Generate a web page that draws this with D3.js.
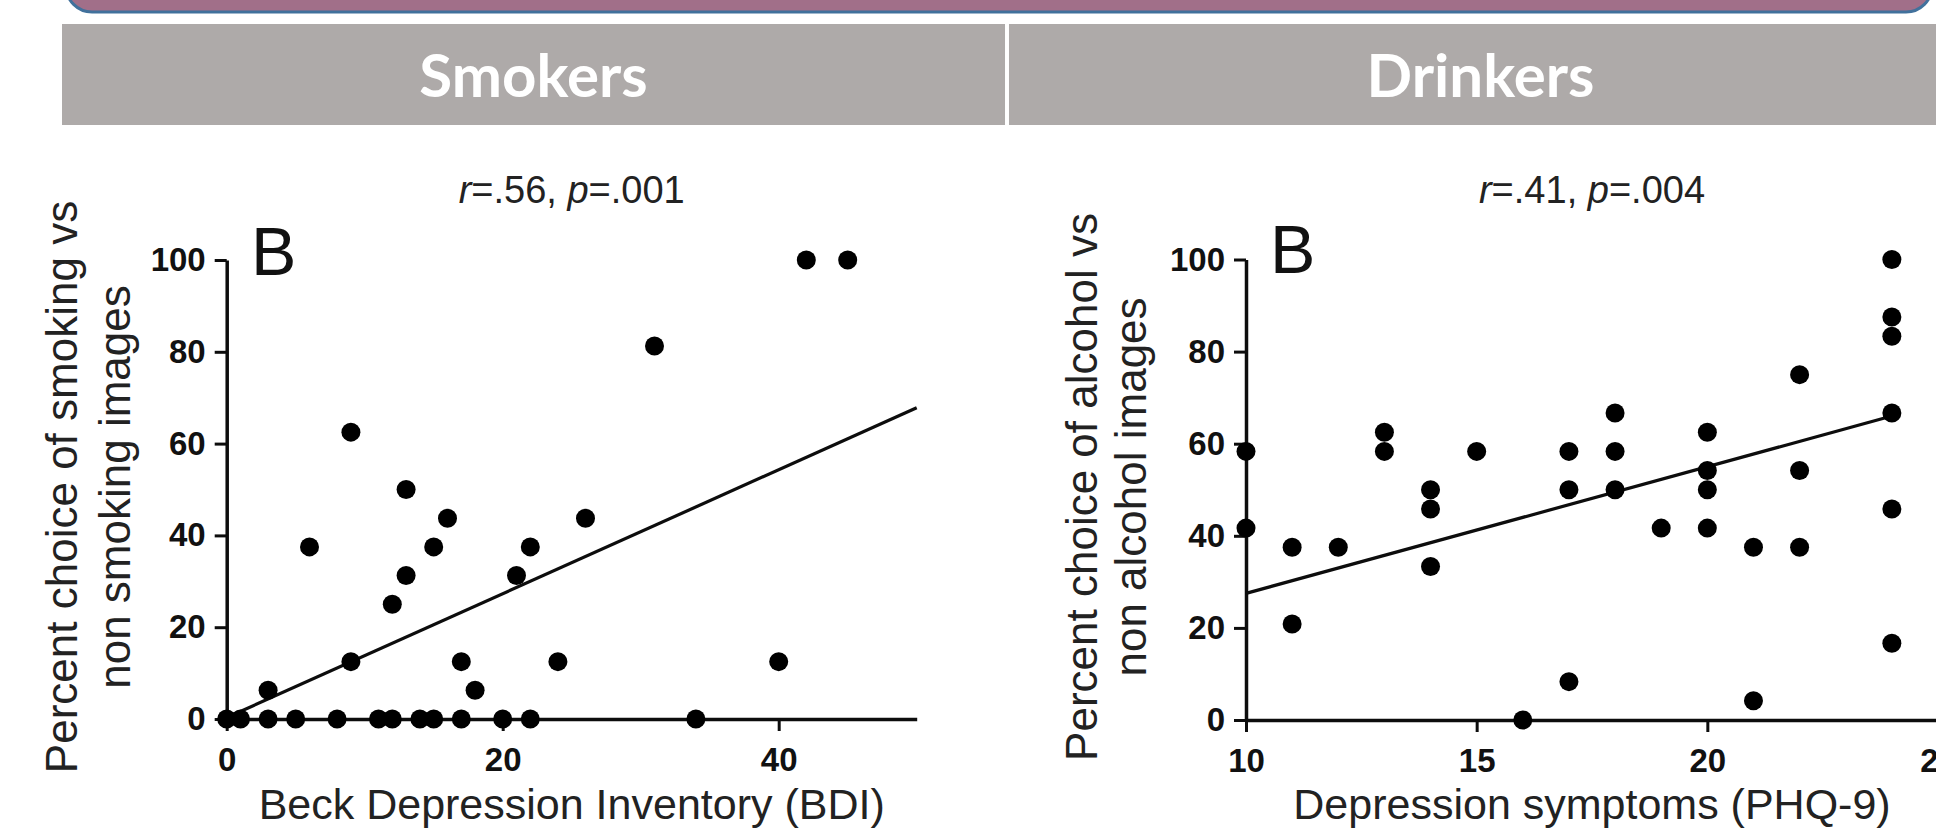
<!DOCTYPE html>
<html>
<head>
<meta charset="utf-8">
<script src="https://cdn.jsdelivr.net/npm/d3@7"></script>
<style>
body { margin: 0; background: #fff; }
svg { display: block; }
text { font-family: "Liberation Sans", Arial, sans-serif; fill: #1a1a1a; }
</style>
</head>
<body>
<script>
// header strip
var groupNames = ["Smokers", "Drinkers"];

// smokers: BDI score vs percent choice of smoking images
var smokeBDI = [0, 1, 3, 5, 8, 11, 12, 14, 15, 17, 20, 22, 34,
                3, 6, 9, 9, 12, 13, 13, 15, 16, 17, 18, 21, 22, 24, 26, 31, 40, 42, 45];
var smokePct = [0, 0, 0, 0, 0, 0, 0, 0, 0, 0, 0, 0, 0,
                6.25, 37.5, 62.5, 12.5, 25, 50, 31.25, 37.5, 43.75, 12.5, 6.25, 31.25, 37.5, 12.5, 43.75, 81.25, 12.5, 100, 100];

// drinkers: PHQ-9 score vs percent choice of alcohol images
var drinkPHQ = [10, 10, 11, 11, 12, 13, 13, 14, 14, 14, 15, 16, 17, 17, 17,
                18, 18, 18, 19, 20, 20, 20, 20, 21, 21, 22, 22, 22, 24, 24, 24, 24, 24, 24];
var drinkPct = [58.33, 41.67, 37.5, 20.83, 37.5, 62.5, 58.33, 50, 45.83, 33.33, 58.33, 0, 58.33, 50, 8.33,
                66.67, 58.33, 50, 41.67, 62.5, 54.17, 50, 41.67, 37.5, 4.17, 75, 54.17, 37.5, 100, 87.5, 83.33, 66.67, 45.83, 16.67];

// regression lines: [intercept, slope], and x span drawn
var smokeFit = [0.3, 1.35], smokeFitX = [0.5, 50];
var drinkFit = [0, 2.75], drinkFitX = [10, 24];

var yTicks = [0, 20, 40, 60, 80, 100];
var smokeXTicks = [0, 20, 40];
var drinkXTicks = [10, 15, 20, 25];

var smokeStats = [".56", ".001"];
var drinkStats = [".41", ".004"];

var width = 1936, height = 832;

var svg = d3.select("body").append("svg")
    .attr("width", width)
    .attr("height", height);

// purple banner cut off at the top
svg.append("rect")
    .attr("x", 66).attr("y", -40)
    .attr("width", 1866).attr("height", 52)
    .attr("rx", 26)
    .attr("fill", "#a16f89")
    .attr("stroke", "#41719c")
    .attr("stroke-width", 3);

// gray group headers
var headX = d3.scaleBand().domain(groupNames).range([62, 1952]).paddingInner(0.0042);

svg.selectAll(".head")
    .data(groupNames)
    .enter().append("rect")
    .attr("class", "head")
    .attr("x", function(d) { return headX(d); })
    .attr("y", 24)
    .attr("width", headX.bandwidth())
    .attr("height", 101)
    .attr("fill", "#aeaaa9");

svg.selectAll(".headtext")
    .data(groupNames)
    .enter().append("text")
    .attr("class", "headtext")
    .attr("x", function(d) { return headX(d) + headX.bandwidth() / 2; })
    .attr("y", 97)
    .attr("text-anchor", "middle")
    .style("font-family", "Lato, 'Open Sans', sans-serif")
    .style("font-weight", "bold")
    .style("font-size", "60px")
    .style("fill", "#fff")
    .text(function(d) { return d; });

function drawPanel(cfg) {
    var x = d3.scaleLinear().domain(cfg.xDomain).range(cfg.xRange);
    var y = d3.scaleLinear().domain([0, 100]).range(cfg.yRange);

    var g = svg.append("g");

    var xAxis = g.append("g")
        .attr("transform", "translate(0," + cfg.yRange[0] + ")")
        .call(d3.axisBottom(x).tickValues(cfg.xTicks).tickSize(12).tickSizeOuter(0).tickPadding(17));

    var yAxis = g.append("g")
        .attr("transform", "translate(" + cfg.xRange[0] + ",0)")
        .call(d3.axisLeft(y).tickValues(yTicks).tickSize(12).tickSizeOuter(0).tickPadding(9));

    [xAxis, yAxis].forEach(function(a) {
        a.style("color", "#0d0d0d");
        a.select(".domain").attr("stroke-width", 3.5);
        a.selectAll(".tick line").attr("stroke-width", 3);
        a.selectAll("text")
            .style("font-size", "33px")
            .style("font-weight", "bold")
            .style("fill", "#111");
    });

    // fit line
    g.append("line")
        .attr("x1", x(cfg.fitX[0]))
        .attr("y1", y(cfg.fit[0] + cfg.fit[1] * cfg.fitX[0]))
        .attr("x2", x(cfg.fitX[1]))
        .attr("y2", y(cfg.fit[0] + cfg.fit[1] * cfg.fitX[1]))
        .attr("stroke", "#0d0d0d")
        .attr("stroke-width", 3.2);

    // dots
    g.selectAll("circle")
        .data(cfg.xs)
        .enter().append("circle")
        .attr("cx", function(d) { return x(d); })
        .attr("cy", function(d, i) { return y(cfg.ys[i]); })
        .attr("r", 9.5)
        .attr("fill", "#000");

    // panel letter
    g.append("text")
        .attr("x", cfg.letterPos[0])
        .attr("y", cfg.letterPos[1])
        .style("font-size", "68px")
        .style("fill", "#111")
        .text("B");

    // r / p title
    var cx = (cfg.xRange[0] + cfg.xRange[1]) / 2;
    var t = g.append("text")
        .attr("x", cx)
        .attr("y", 203)
        .attr("text-anchor", "middle")
        .style("font-size", "38px")
        .style("fill", "#222");
    t.append("tspan").style("font-style", "italic").text("r");
    t.append("tspan").text("=" + cfg.stats[0] + ", ");
    t.append("tspan").style("font-style", "italic").text("p");
    t.append("tspan").text("=" + cfg.stats[1]);

    // x title
    g.append("text")
        .attr("x", cx)
        .attr("y", 819)
        .attr("text-anchor", "middle")
        .style("font-size", "43px")
        .style("fill", "#222")
        .text(cfg.xTitle);

    // y title, two lines
    var ymid = 487;
    cfg.yTitle.forEach(function(line, i) {
        g.append("text")
            .attr("transform", "translate(" + cfg.yTitleX[i] + "," + ymid + ") rotate(-90)")
            .attr("text-anchor", "middle")
            .style("font-size", "44px")
            .style("fill", "#222")
            .text(line);
    });
}

drawPanel({
    xs: smokeBDI, ys: smokePct,
    xDomain: [0, 50], xRange: [226.7, 916.7],
    yRange: [719, 260],
    xTicks: smokeXTicks,
    fit: smokeFit, fitX: smokeFitX,
    stats: smokeStats,
    letterPos: [251, 275],
    xTitle: "Beck Depression Inventory (BDI)",
    yTitle: ["Percent choice of smoking vs", "non smoking images"],
    yTitleX: [77, 130]
});

drawPanel({
    xs: drinkPHQ, ys: drinkPct,
    xDomain: [10, 25], xRange: [1246, 1938],
    yRange: [720, 259.5],
    xTicks: drinkXTicks,
    fit: drinkFit, fitX: drinkFitX,
    stats: drinkStats,
    letterPos: [1270, 273],
    xTitle: "Depression symptoms (PHQ-9)",
    yTitle: ["Percent choice of alcohol vs", "non alcohol images"],
    yTitleX: [1097, 1146]
});
</script>
</body>
</html>
